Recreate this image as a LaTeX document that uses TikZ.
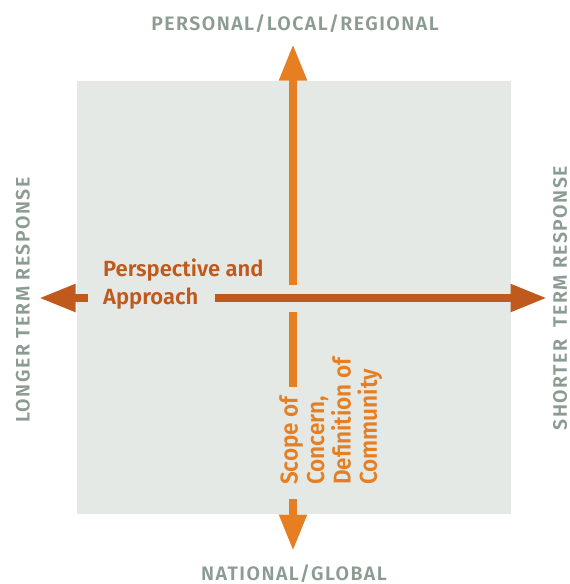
\documentclass[tikz,border=0pt]{standalone}
\usepackage{fontspec}
\setmainfont{Fira Sans}[BoldFont={Fira Sans SemiBold}]
\newfontfamily\trackedcaps{Fira Sans SemiBold}[LetterSpace=7.5]
\usetikzlibrary{arrows.meta}

\definecolor{fieldgray}{HTML}{E5E9E6}
\definecolor{axisorange}{HTML}{E67E22}
\definecolor{axisbrown}{HTML}{BF5A1C}
\definecolor{labelgray}{HTML}{8C9C92}

\tikzset{
  axisline/.style={line width=8pt, line cap=butt,
    -{Triangle[width=26pt,length=36.5pt]}},
  vaxis/.style={axisline, draw=axisorange, color=axisorange},
  haxis/.style={axisline, draw=axisbrown, color=axisbrown},
  plainbar/.style={line width=8pt, line cap=butt},
  poletext/.style={text=labelgray, inner sep=0pt,
    font=\trackedcaps\fontsize{19.5}{22}\selectfont},
  themetext/.style={inner sep=0pt, align=left},
}

\begin{document}
\begin{tikzpicture}[x=1pt, y=-1pt]
  \useasboundingbox (0,0) rectangle (570,584);

  % shaded field behind the two axes
  \node[fill=fieldgray, inner sep=0pt, minimum width=434pt, minimum height=433pt,
        anchor=north west] (field) at (77,81) {};

  % end points of the axis segments
  \coordinate (uptip)   at (293,44);
  \coordinate (upfoot)  at (293,285);
  \coordinate (midtop)  at (293,312);
  \coordinate (midbot)  at (293,387);
  \coordinate (dnfoot)  at (293,499);
  \coordinate (dntip)   at (293,551);
  \coordinate (lftip)   at (39,298);
  \coordinate (lffoot)  at (88,298);
  \coordinate (rtfoot)  at (215,298);
  \coordinate (rttip)   at (547,298);

  % vertical axis: scope of concern
  \draw[vaxis] (upfoot) -- (uptip);
  \draw[plainbar, draw=axisorange] (midtop) -- (midbot);
  \draw[vaxis] (dnfoot) -- (dntip);

  % horizontal axis: perspective and approach
  \draw[haxis] (lffoot) -- (lftip);
  \draw[haxis] (rtfoot) -- (rttip);

  % axis titles
  \node[themetext, text=axisbrown, anchor=north west,
        font=\bfseries\fontsize{22}{27.5}\selectfont] (persp) at (103,259)
    {Perspective and\\Approach};
  \node[themetext, text=axisorange, rotate=90, yscale=1.08, anchor=north west,
        font=\bfseries\fontsize{22.5}{24.5}\selectfont] (scope) at (279,485)
    {Scope of\\Concern,\\Definition of\\Community};

  % pole labels
  \node[poletext, anchor=base] (top) at (295,30) {PERSONAL/LOCAL/REGIONAL};
  \node[poletext, anchor=base] (bottom) at (294,580) {NATIONAL/GLOBAL};
  \node[poletext, rotate=90] (left) at (23,300) {LONGER TERM RESPONSE};
  \node[poletext, rotate=90] (right) at (560,298) {SHORTER\ \ TERM RESPONSE};
\end{tikzpicture}
\end{document}
